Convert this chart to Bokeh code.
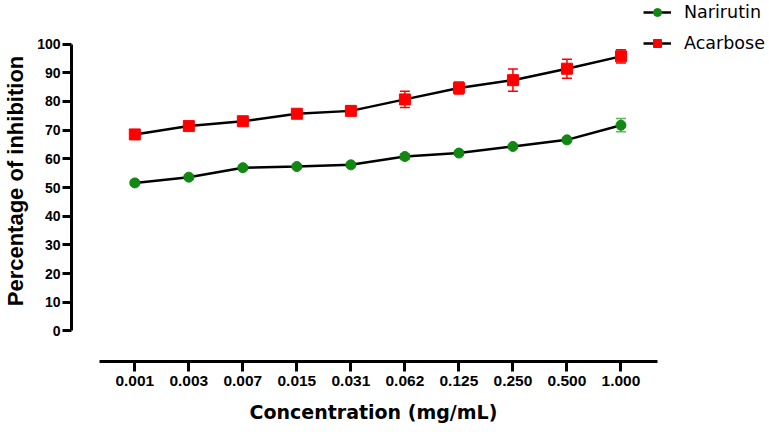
from bokeh.plotting import figure
from bokeh.models import (Range1d, FixedTicker, Whisker, TeeHead, ColumnDataSource,
                          Legend, LegendItem, Title)
from bokeh.embed import file_html
from bokeh.resources import INLINE

# ---- data ----
concentrations = ["0.001", "0.003", "0.007", "0.015", "0.031",
                  "0.062", "0.125", "0.250", "0.500", "1.000"]
narirutin = [51.6, 53.6, 56.9, 57.3, 57.9, 60.8, 62.0, 64.3, 66.6, 71.7]
narirutin_err = [0.6, 0.7, 0.6, 0.6, 0.6, 1.0, 0.7, 0.6, 0.6, 2.3]
acarbose = [68.5, 71.4, 73.1, 75.7, 76.7, 80.7, 84.7, 87.4, 91.4, 95.7]
acarbose_err = [1.2, 0.8, 0.8, 0.8, 0.8, 2.8, 2.1, 3.9, 3.3, 2.3]
y_ticks = [0, 10, 20, 30, 40, 50, 60, 70, 80, 90, 100]

idx = list(range(len(concentrations)))

GREEN = "#118811"
RED = "#ff0000"

p = figure(width=769, height=432, output_backend="svg", toolbar_location=None,
           x_range=Range1d(-1.172, 11.75), y_range=Range1d(-10.63, 115.16),
           min_border_left=69, min_border_right=0, min_border_top=0,
           min_border_bottom=71)
p.outline_line_color = None
p.xgrid.visible = False
p.ygrid.visible = False
p.background_fill_color = "white"
p.border_fill_color = "white"

src_n = ColumnDataSource(dict(x=idx, y=narirutin,
                              upper=[v + e for v, e in zip(narirutin, narirutin_err)],
                              lower=[v - e for v, e in zip(narirutin, narirutin_err)]))
src_a = ColumnDataSource(dict(x=idx, y=acarbose,
                              upper=[v + e for v, e in zip(acarbose, acarbose_err)],
                              lower=[v - e for v, e in zip(acarbose, acarbose_err)]))

for src, col in ((src_n, "#5cb85c"), (src_a, RED)):
    w = Whisker(source=src, base="x", upper="upper", lower="lower", dimension="height",
                line_color=col, line_width=1.5,
                upper_head=TeeHead(size=10, line_color=col, line_width=1.5),
                lower_head=TeeHead(size=10, line_color=col, line_width=1.5))
    p.add_layout(w)

ln = p.line("x", "y", source=src_n, line_color="black", line_width=2.5)
la = p.line("x", "y", source=src_a, line_color="black", line_width=2.5)
sn = p.scatter("x", "y", source=src_n, marker="circle", size=10,
               fill_color=GREEN, line_color=GREEN)
sa = p.scatter("x", "y", source=src_a, marker="square", size=11,
               fill_color=RED, line_color=RED)

# axes
xa = p.xaxis[0]
xa.ticker = FixedTicker(ticks=idx)
xa.major_label_overrides = {i: c for i, c in zip(idx, concentrations)}
xa.bounds = (-0.655, 9.68)
xa.axis_line_width = 3
xa.major_tick_line_width = 3
xa.major_tick_out = 10
xa.major_tick_in = 0
xa.minor_tick_line_color = None
xa.major_label_text_font = "Liberation Sans"
xa.major_label_text_font_style = "bold"
xa.major_label_text_font_size = "15.5px"
xa.major_label_text_color = "black"
xa.major_label_standoff = 4

ya = p.yaxis[0]
ya.ticker = FixedTicker(ticks=y_ticks)
ya.bounds = (0, 100)
ya.axis_line_width = 3
ya.major_tick_line_width = 3
ya.major_tick_out = 9
ya.major_tick_in = 0
ya.minor_tick_line_color = None
ya.major_label_text_font = "Liberation Sans"
ya.major_label_text_font_style = "bold"
ya.major_label_text_font_size = "14px"
ya.major_label_text_color = "black"
ya.major_label_standoff = 2
ya.axis_label = "Percentage of inhibition"
ya.axis_label_text_font = "Liberation Sans"
ya.axis_label_text_font_style = "bold"
ya.axis_label_text_font_size = "22px"
ya.axis_label_text_color = "black"
ya.axis_label_standoff = 6

xtitle = Title(text="Concentration (mg/mL)", align="left", offset=178,
               standoff=20, text_font="DejaVu Sans", text_font_style="bold",
               text_font_size="19px", text_color="black")
p.add_layout(xtitle, "below")

legend = Legend(items=[LegendItem(label="Narirutin", renderers=[ln, sn]),
                       LegendItem(label="Acarbose", renderers=[la, sa])],
                location=(572, 308), orientation="vertical",
                padding=0, margin=0, spacing=11,
                glyph_width=28, glyph_height=20, label_height=20,
                label_standoff=13, label_text_font="DejaVu Sans",
                label_text_font_size="17.5px", label_text_color="black",
                border_line_alpha=0, background_fill_alpha=0)
p.add_layout(legend)

open("out.html", "w").write(file_html(p, INLINE))
